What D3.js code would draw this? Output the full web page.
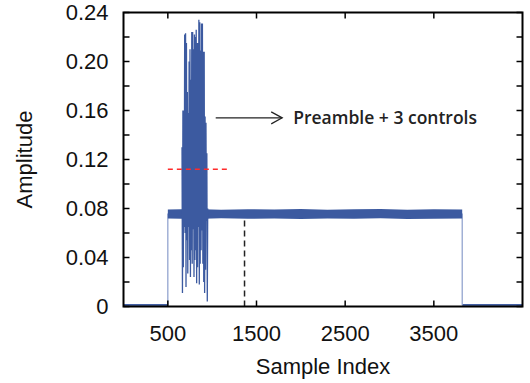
<!DOCTYPE html>
<html>
<head>
<meta charset="utf-8">
<script src="https://cdn.jsdelivr.net/npm/d3@7"></script>
<style>
  html, body { margin: 0; padding: 0; background: #fff; }
  svg { display: block; font-family: "Liberation Sans", Arial, sans-serif; }
</style>
</head>
<body>
<div id="chart"></div>
<script>
// x ticks / y ticks
const xTicks = [500, 1500, 2500, 3500];
const yTicks = [0, 0.02, 0.04, 0.06, 0.08, 0.10, 0.12, 0.14, 0.16, 0.18, 0.20, 0.22, 0.24];
const yLabels = [0, 0.04, 0.08, 0.12, 0.16, 0.20, 0.24];

// quiet floor before / after the frame
const floorSegments = [[0, 500], [3820, 4500]];
const floorLevel = [0.0005, 0.002];

// frame plateau envelope
const plateauIdx = [500, 800, 1100, 1400, 1700, 2000, 2300, 2600, 2900, 3200, 3500, 3820];
const plateauHigh = [0.0792, 0.0795, 0.079, 0.0794, 0.0791, 0.0796, 0.079, 0.0793, 0.0795, 0.079, 0.0794, 0.0792];
const plateauLow = [0.0718, 0.0715, 0.072, 0.0716, 0.0719, 0.0714, 0.0718, 0.0716, 0.072, 0.0715, 0.0717, 0.0718];
const edges = [500, 3820];

// preamble + controls burst, per-column peak and trough
const burstIdx = [660, 670, 680, 690, 700, 710, 720, 730, 740, 750, 760, 770, 780, 790, 800,
                  810, 820, 830, 840, 850, 860, 870, 880, 890, 900, 910, 920, 930, 940, 950];
const burstHigh = [0.13, 0.16, 0.16, 0.222, 0.223, 0.215, 0.175, 0.158, 0.2, 0.21, 0.185, 0.224, 0.224, 0.21, 0.222,
                   0.22, 0.226, 0.215, 0.215, 0.234, 0.232, 0.209, 0.231, 0.231, 0.208, 0.208, 0.155, 0.15, 0.125, 0.08];
const burstLow = [0.011, 0.032, 0.065, 0.06, 0.016, 0.054, 0.027, 0.065, 0.038, 0.024, 0.046, 0.035, 0.063, 0.024, 0.038,
                  0.046, 0.019, 0.032, 0.065, 0.018, 0.035, 0.046, 0.062, 0.035, 0.02, 0.011, 0.03, 0.07, 0.004, 0.072];

// annotations
const markerSample = 1365, markerTop = 0.073;
const thresholdLevel = 0.112, thresholdRange = [500, 1200];
const arrowFrom = [1040, 0.154], arrowTo = [1790, 0.154];
const noteText = 'Preamble + 3 controls';

const width = 530, height = 383;
const margin = { top: 12.5, right: 7.5, bottom: 76.5, left: 123.5 };
const innerW = width - margin.left - margin.right;
const innerH = height - margin.top - margin.bottom;
const blue = '#3c5aa0';

const svg = d3.select('#chart').append('svg')
  .attr('width', width)
  .attr('height', height);

const x = d3.scaleLinear().domain([0, 4500]).range([margin.left, margin.left + innerW]);
const y = d3.scaleLinear().domain([0, 0.24]).range([margin.top + innerH, margin.top]);

const g = svg.append('g');

// floor
floorSegments.forEach(s => {
  g.append('rect')
    .attr('x', x(s[0]))
    .attr('width', x(s[1]) - x(s[0]))
    .attr('y', y(floorLevel[1]))
    .attr('height', y(floorLevel[0]) - y(floorLevel[1]))
    .attr('fill', blue);
});

// edges
edges.forEach(e => {
  g.append('line')
    .attr('x1', x(e)).attr('x2', x(e))
    .attr('y1', y(0.001)).attr('y2', y(0.076))
    .attr('stroke', '#8a9dcb')
    .attr('stroke-width', 1.2);
});

// plateau
const plateau = plateauIdx.map((s, i) => ({ s, hi: plateauHigh[i], lo: plateauLow[i] }));
g.append('path')
  .datum(plateau)
  .attr('fill', blue)
  .attr('d', d3.area().x(d => x(d.s)).y0(d => y(d.lo)).y1(d => y(d.hi)));

// burst as zigzag trace
const burstPts = [];
burstIdx.forEach((s, i) => {
  burstPts.push([s, burstHigh[i]]);
  burstPts.push([s + 5, burstLow[i]]);
});
g.append('path')
  .datum(burstPts)
  .attr('fill', 'none')
  .attr('stroke', blue)
  .attr('stroke-width', 1.3)
  .attr('d', d3.line().x(d => x(d[0])).y(d => y(d[1])));

// dashed marker
g.append('line')
  .attr('x1', x(markerSample)).attr('x2', x(markerSample))
  .attr('y1', y(0)).attr('y2', y(markerTop))
  .attr('stroke', '#222')
  .attr('stroke-width', 1.5)
  .attr('stroke-dasharray', '6,4');

// red threshold
g.append('line')
  .attr('x1', x(thresholdRange[0])).attr('x2', x(thresholdRange[1]))
  .attr('y1', y(thresholdLevel)).attr('y2', y(thresholdLevel))
  .attr('stroke', '#ff2b2b')
  .attr('stroke-width', 1.4)
  .attr('stroke-dasharray', '5,4');

// arrow + note
const ax1 = x(arrowFrom[0]), ax2 = x(arrowTo[0]), ay = y(arrowFrom[1]);
g.append('line')
  .attr('x1', ax1).attr('x2', ax2).attr('y1', ay).attr('y2', ay)
  .attr('stroke', '#222').attr('stroke-width', 1.2);
g.append('path')
  .attr('d', `M${ax2 - 11},${ay - 6}L${ax2},${ay}L${ax2 - 11},${ay + 6}`)
  .attr('fill', 'none').attr('stroke', '#222').attr('stroke-width', 1.2);
g.append('text')
  .attr('x', ax2 + 11)
  .attr('y', ay + 6)
  .attr('font-family', '"Open Sans", "Noto Sans", sans-serif')
  .attr('font-weight', 600)
  .attr('font-size', 17.5)
  .attr('fill', '#222')
  .text(noteText);

// frame and ticks
const axes = svg.append('g');
axes.append('rect')
  .attr('x', margin.left).attr('y', margin.top)
  .attr('width', innerW).attr('height', innerH)
  .attr('fill', 'none').attr('stroke', '#000').attr('stroke-width', 2);

const tl = 6;
yTicks.forEach(t => {
  axes.append('line').attr('x1', margin.left).attr('x2', margin.left + tl)
    .attr('y1', y(t)).attr('y2', y(t)).attr('stroke', '#000').attr('stroke-width', 1.5);
  axes.append('line').attr('x1', margin.left + innerW).attr('x2', margin.left + innerW - tl)
    .attr('y1', y(t)).attr('y2', y(t)).attr('stroke', '#000').attr('stroke-width', 1.5);
});
xTicks.forEach(t => {
  axes.append('line').attr('x1', x(t)).attr('x2', x(t))
    .attr('y1', margin.top + innerH).attr('y2', margin.top + innerH - tl)
    .attr('stroke', '#000').attr('stroke-width', 1.5);
  axes.append('line').attr('x1', x(t)).attr('x2', x(t))
    .attr('y1', margin.top).attr('y2', margin.top + tl)
    .attr('stroke', '#000').attr('stroke-width', 1.5);
});

const fmt = d => d === 0 ? '0' : d3.format('.2f')(d);
axes.selectAll('.ylab')
  .data(yLabels)
  .join('text')
  .attr('x', 108.5)
  .attr('y', d => y(d))
  .attr('dy', '0.36em')
  .attr('text-anchor', 'end')
  .attr('font-size', 22)
  .attr('fill', '#111')
  .text(fmt);

axes.selectAll('.xlab')
  .data(xTicks)
  .join('text')
  .attr('x', d => x(d))
  .attr('y', 340.5)
  .attr('text-anchor', 'middle')
  .attr('font-size', 22)
  .attr('fill', '#111')
  .text(d => d);

axes.append('text')
  .attr('x', margin.left + innerW / 2)
  .attr('y', 374)
  .attr('text-anchor', 'middle')
  .attr('font-size', 22)
  .attr('fill', '#111')
  .text('Sample Index');

axes.append('text')
  .attr('transform', `translate(32,${margin.top + innerH / 2}) rotate(-90)`)
  .attr('text-anchor', 'middle')
  .attr('font-size', 22)
  .attr('fill', '#111')
  .text('Amplitude');
</script>
</body>
</html>
